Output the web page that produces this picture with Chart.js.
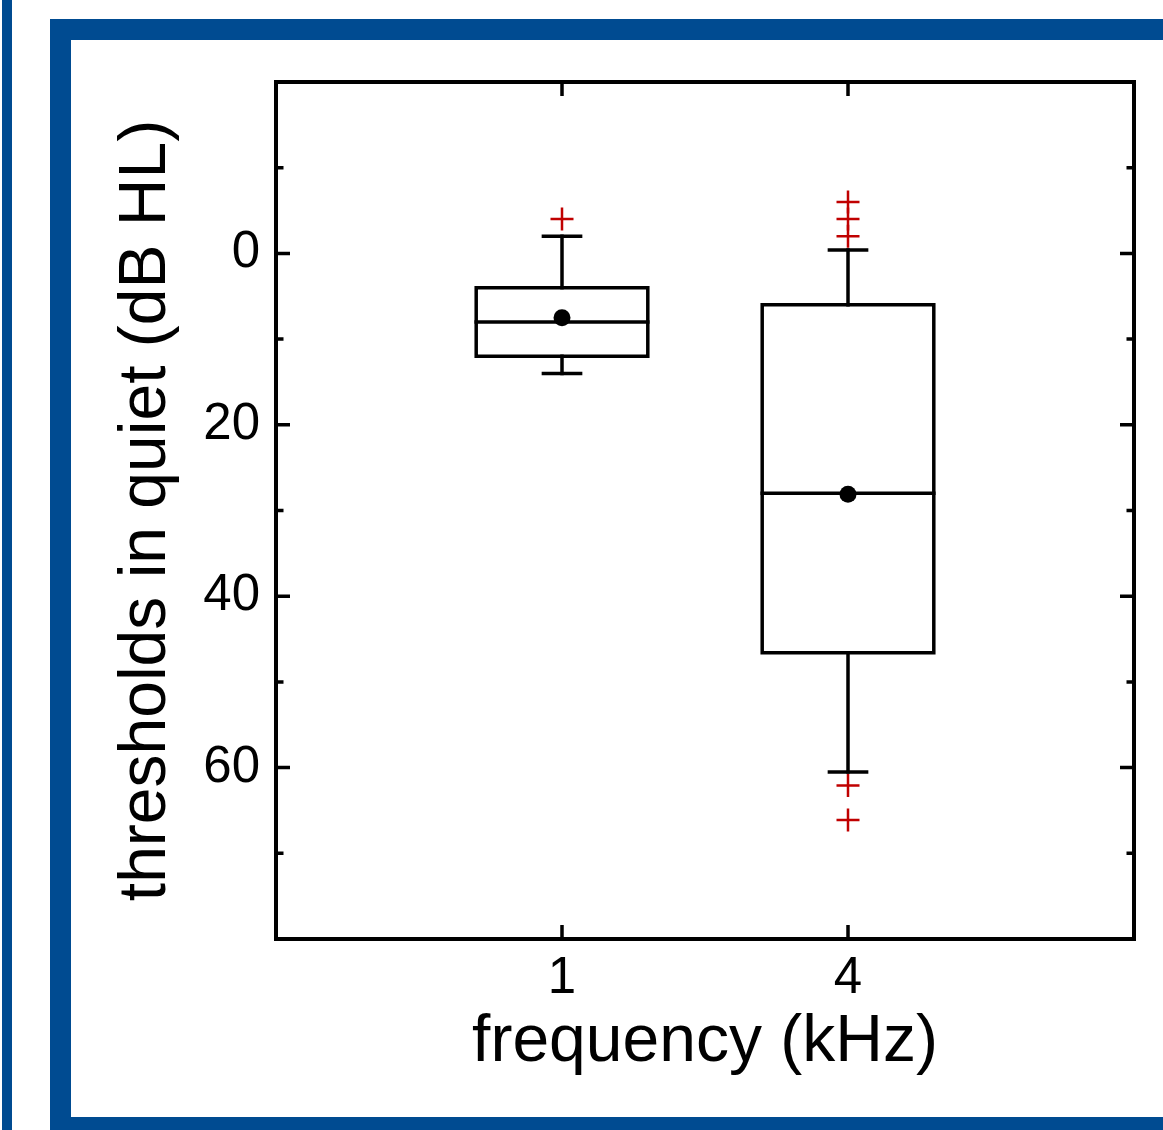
<!DOCTYPE html>
<html>
<head>
<meta charset="utf-8">
<script src="https://cdn.jsdelivr.net/npm/chart.js@4.4.1/dist/chart.umd.min.js"></script>
<style>
  html, body { margin:0; padding:0; background:#fff; overflow:hidden; }
  body { width:1163px; height:1130px; position:relative; }
  .bar-left { position:absolute; left:2px; top:0; width:10px; height:1130px; background:#004b91; }
  .frame { position:absolute; left:50px; top:19px; width:1200px; height:1119px; border:21px solid #004b91; box-sizing:border-box; }
  #chart { position:absolute; left:0; top:0; }
</style>
</head>
<body>
<div class="bar-left"></div>
<div class="frame"></div>
<canvas id="chart" width="1163" height="1130"></canvas>
<script>
// box plot data, thresholds in quiet (dB HL) per frequency
const freqLabels = ["1", "4"];
const q1 = [4, 6];
const medians = [8, 28];
const q3 = [12, 46.6];
const whiskerTop = [-2, -0.4];
const whiskerBottom = [14, 60.5];
const means = [7.5, 28.1];
const outliers = [[-4], [-6, -4, -2, 62.1, 66.1]];

const yMajorTicks = [0, 20, 40, 60];
const yMinorTicks = [-10, 10, 30, 50, 70];

const BOX_HALF = 0.3, CAP_HALF = 0.065;
const FONT = "'Liberation Sans', Arial, sans-serif";

function line(points, width){
  return { type:'line', data: points, showLine:true, borderColor:'#000', borderWidth: width || 3.5,
    pointRadius:0, fill:false, tension:0, borderCapStyle:'square', borderJoinStyle:'miter' };
}

const datasets = [];
freqLabels.forEach((lab, i) => {
  const x = i + 1;
  datasets.push(line([{x:x-BOX_HALF,y:q1[i]},{x:x+BOX_HALF,y:q1[i]},{x:x+BOX_HALF,y:q3[i]},{x:x-BOX_HALF,y:q3[i]},{x:x-BOX_HALF,y:q1[i]}]));
  datasets.push(line([{x:x-BOX_HALF,y:medians[i]},{x:x+BOX_HALF,y:medians[i]}]));
  datasets.push(line([{x:x,y:q1[i]},{x:x,y:whiskerTop[i]}]));
  datasets.push(line([{x:x-CAP_HALF,y:whiskerTop[i]},{x:x+CAP_HALF,y:whiskerTop[i]}]));
  datasets.push(line([{x:x,y:q3[i]},{x:x,y:whiskerBottom[i]}]));
  datasets.push(line([{x:x-CAP_HALF,y:whiskerBottom[i]},{x:x+CAP_HALF,y:whiskerBottom[i]}]));
});
datasets.push({
  type:'scatter',
  data: outliers.flatMap((arr, i) => arr.map(v => ({x:i+1, y:v}))),
  pointStyle:'cross', pointRadius:11.5, borderColor:'#c00000', borderWidth:2.5
});
datasets.push({
  type:'scatter',
  data: means.map((v, i) => ({x:i+1, y:v})),
  pointStyle:'circle', pointRadius:8.5, backgroundColor:'#000', borderWidth:0
});

// frame + inward tick marks on all four sides
const frameTicks = {
  id:'frameTicks',
  afterDraw(chart){
    const {ctx, chartArea:a, scales:{x, y}} = chart;
    ctx.save();
    ctx.strokeStyle = '#000';
    ctx.lineWidth = 4;
    ctx.lineJoin = 'miter';
    ctx.strokeRect(a.left, a.top, a.right - a.left, a.bottom - a.top);
    ctx.lineWidth = 3.5;
    ctx.beginPath();
    const yt = (v, len) => {
      const p = y.getPixelForValue(v);
      ctx.moveTo(a.left, p); ctx.lineTo(a.left + len, p);
      ctx.moveTo(a.right, p); ctx.lineTo(a.right - len, p);
    };
    yMajorTicks.forEach(v => yt(v, 14));
    yMinorTicks.forEach(v => yt(v, 7.5));
    freqLabels.forEach((l, i) => {
      const p = x.getPixelForValue(i + 1);
      ctx.moveTo(p, a.top); ctx.lineTo(p, a.top + 14);
      ctx.moveTo(p, a.bottom); ctx.lineTo(p, a.bottom - 14);
    });
    ctx.stroke();
    ctx.restore();
  }
};

new Chart(document.getElementById('chart'), {
  type:'scatter',
  data:{ datasets },
  options:{
    responsive:false,
    animation:false,
    layout:{ padding:{ left:0, top:82, right:29, bottom:0 } },
    plugins:{ legend:{ display:false }, tooltip:{ enabled:false } },
    scales:{
      x:{
        type:'linear', min:0, max:3,
        grid:{ display:false, drawTicks:false },
        border:{ display:false },
        afterBuildTicks: s => { s.ticks = freqLabels.map((l, i) => ({ value:i + 1 })); },
        afterFit: s => { s.height = 191; },
        ticks:{ color:'#000', padding:9, font:{ family:FONT, size:51 }, callback: v => freqLabels[v - 1] },
        title:{ display:true, text:'frequency (kHz)', color:'#000', font:{ family:FONT, size:66 }, padding:{ top:0, bottom:48 } }
      },
      y:{
        type:'linear', min:-20, max:80, reverse:true,
        grid:{ display:false, drawTicks:false },
        border:{ display:false },
        afterBuildTicks: s => { s.ticks = yMajorTicks.map(v => ({ value:v })); },
        afterFit: s => { s.width = 276; },
        ticks:{ color:'#000', padding:16, font:{ family:FONT, size:51 }, callback: v => String(v) },
        title:{ display:true, text:'thresholds in quiet (dB HL)', color:'#000', font:{ family:FONT, size:66 }, padding:{ top:107, bottom:0 } }
      }
    }
  },
  plugins:[frameTicks]
});
</script>
</body>
</html>
